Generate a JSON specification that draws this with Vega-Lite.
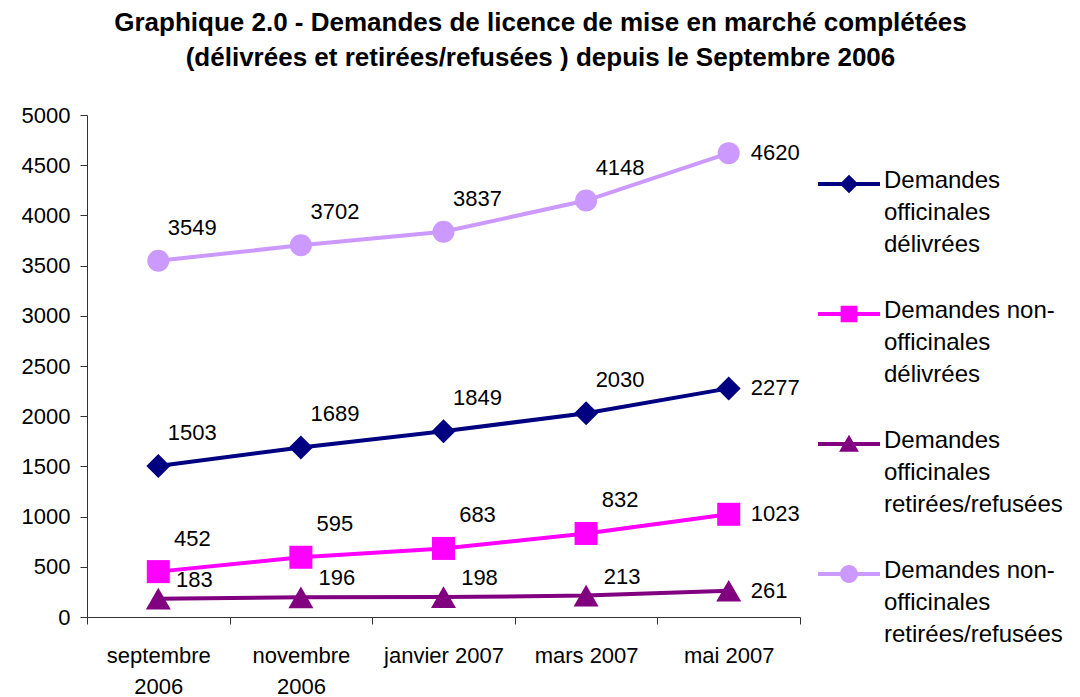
{
  "$schema": "https://vega.github.io/schema/vega-lite/v6.json",
  "width": 713,
  "height": 502,
  "autosize": "none",
  "padding": {"left": 87, "top": 115, "right": 280, "bottom": 80},
  "background": "white",
  "config": {"font": "Liberation Sans", "view": {"stroke": null}},
  "title": {
    "text": ["Graphique 2.0 - Demandes de licence de mise en marché complétées", "(délivrées et retirées/refusées ) depuis le Septembre 2006"],
    "font": "Liberation Sans",
    "fontSize": 26,
    "fontWeight": "bold",
    "color": "black",
    "anchor": "middle",
    "dx": 97,
    "lineHeight": 35,
    "offset": 33
  },
  "data": {
    "values": [
      {"month": "septembre 2006", "series": "Demandes officinales délivrées", "value": 1503},
      {"month": "novembre 2006", "series": "Demandes officinales délivrées", "value": 1689},
      {"month": "janvier 2007", "series": "Demandes officinales délivrées", "value": 1849},
      {"month": "mars 2007", "series": "Demandes officinales délivrées", "value": 2030},
      {"month": "mai 2007", "series": "Demandes officinales délivrées", "value": 2277},
      {"month": "septembre 2006", "series": "Demandes non-officinales délivrées", "value": 452},
      {"month": "novembre 2006", "series": "Demandes non-officinales délivrées", "value": 595},
      {"month": "janvier 2007", "series": "Demandes non-officinales délivrées", "value": 683},
      {"month": "mars 2007", "series": "Demandes non-officinales délivrées", "value": 832},
      {"month": "mai 2007", "series": "Demandes non-officinales délivrées", "value": 1023},
      {"month": "septembre 2006", "series": "Demandes officinales retirées/refusées", "value": 183},
      {"month": "novembre 2006", "series": "Demandes officinales retirées/refusées", "value": 196},
      {"month": "janvier 2007", "series": "Demandes officinales retirées/refusées", "value": 198},
      {"month": "mars 2007", "series": "Demandes officinales retirées/refusées", "value": 213},
      {"month": "mai 2007", "series": "Demandes officinales retirées/refusées", "value": 261},
      {"month": "septembre 2006", "series": "Demandes non-officinales retirées/refusées", "value": 3549},
      {"month": "novembre 2006", "series": "Demandes non-officinales retirées/refusées", "value": 3702},
      {"month": "janvier 2007", "series": "Demandes non-officinales retirées/refusées", "value": 3837},
      {"month": "mars 2007", "series": "Demandes non-officinales retirées/refusées", "value": 4148},
      {"month": "mai 2007", "series": "Demandes non-officinales retirées/refusées", "value": 4620}
    ]
  },
  "encoding": {
    "x": {
      "field": "month",
      "type": "ordinal",
      "sort": ["septembre 2006", "novembre 2006", "janvier 2007", "mars 2007", "mai 2007"],
      "scale": {"type": "band", "paddingInner": 0, "paddingOuter": 0},
      "axis": {
        "title": null,
        "labelAngle": 0,
        "labelFont": "Liberation Sans",
        "labelFontSize": 22,
        "labelColor": "black",
        "labelPadding": 21,
        "labelLineHeight": 31,
        "labelBaseline": "top",
        "labelExpr": "datum.label == 'septembre 2006' || datum.label == 'novembre 2006' ? split(datum.label, ' ') : datum.label",
        "tickBand": "extent",
        "tickSize": 7,
        "tickColor": "#333333",
        "domainColor": "#333333",
        "grid": false
      }
    },
    "y": {
      "field": "value",
      "type": "quantitative",
      "scale": {"domain": [0, 5000], "nice": false, "zero": true},
      "axis": {
        "title": null,
        "format": "d",
        "values": [0, 500, 1000, 1500, 2000, 2500, 3000, 3500, 4000, 4500, 5000],
        "labelFont": "Liberation Sans",
        "labelFontSize": 22,
        "labelColor": "black",
        "labelPadding": 10,
        "tickSize": 7,
        "tickColor": "#333333",
        "domainColor": "#333333",
        "grid": false
      }
    }
  },
  "layer": [
    {
      "mark": {"type": "line", "strokeWidth": 4},
      "encoding": {
        "color": {
          "field": "series",
          "type": "nominal",
          "scale": {
            "domain": ["Demandes officinales délivrées", "Demandes non-officinales délivrées", "Demandes officinales retirées/refusées", "Demandes non-officinales retirées/refusées"],
            "range": ["#000080", "#FF00FF", "#800080", "#CC99FF"]
          },
          "legend": {
            "title": null,
            "orient": "none",
            "legendX": 731,
            "legendY": 38,
            "padding": 0,
            "symbolSize": 3844,
            "symbolStrokeWidth": 0,
            "labelFont": "Liberation Sans",
            "labelFontSize": 24,
            "labelColor": "black",
            "labelLimit": 300,
            "labelOffset": 4,
            "labelBaseline": "top",
            "rowPadding": 26,
            "labelExpr": "datum.label == 'Demandes officinales délivrées' ? ['Demandes','officinales','délivrées'] : datum.label == 'Demandes non-officinales délivrées' ? ['Demandes non-','officinales','délivrées'] : datum.label == 'Demandes officinales retirées/refusées' ? ['Demandes','officinales','retirées/refusées'] : ['Demandes non-','officinales','retirées/refusées']",
            "encode": {
              "symbols": {
                "update": {
                  "shape": {"signal": "datum.value == 'Demandes officinales délivrées' ? 'M-1,-0.065H1V0.065H-1Z M0,-0.3L0.3,0L0,0.3L-0.3,0Z' : datum.value == 'Demandes non-officinales délivrées' ? 'M-1,-0.065H1V0.065H-1Z M-0.27,-0.27H0.27V0.27H-0.27Z' : datum.value == 'Demandes officinales retirées/refusées' ? 'M-1,-0.065H1V0.065H-1Z M0,-0.3L0.32,0.25L-0.32,0.25Z' : 'M-1,-0.065H1V0.065H-1Z M-0.29,0A0.29,0.29 0 1,1 0.29,0A0.29,0.29 0 1,1 -0.29,0Z'"},
                  "fill": {"scale": "color", "field": "value"},
                  "stroke": {"value": "transparent"},
                  "strokeWidth": {"value": 0},
                  "opacity": {"value": 1}
                }
              },
              "labels": {
                "update": {
                  "lineHeight": {"value": 32},
                  "dy": {"value": -15}
                }
              }
            }
          }
        }
      }
    },
    {
      "transform": [{"filter": "datum.series == 'Demandes officinales délivrées'"}],
      "mark": {"type": "point", "shape": "diamond", "filled": true, "size": 576, "color": "#000080", "opacity": 1}
    },
    {
      "transform": [{"filter": "datum.series == 'Demandes non-officinales délivrées'"}],
      "mark": {"type": "point", "shape": "square", "filled": true, "size": 529, "color": "#FF00FF", "opacity": 1}
    },
    {
      "transform": [{"filter": "datum.series == 'Demandes officinales retirées/refusées'"}],
      "mark": {"type": "point", "shape": "triangle-up", "filled": true, "size": 625, "color": "#800080", "opacity": 1}
    },
    {
      "transform": [{"filter": "datum.series == 'Demandes non-officinales retirées/refusées'"}],
      "mark": {"type": "point", "shape": "circle", "filled": true, "size": 484, "color": "#CC99FF", "opacity": 1}
    },
    {
      "transform": [{"filter": "datum.month != 'mai 2007' && datum.series != 'Demandes officinales retirées/refusées'"}],
      "mark": {"type": "text", "font": "Liberation Sans", "fontSize": 22, "color": "black", "align": "center", "baseline": "middle", "dx": 34, "dy": -33},
      "encoding": {"text": {"field": "value", "type": "quantitative", "format": "d"}}
    },
    {
      "transform": [{"filter": "datum.month != 'mai 2007' && datum.series == 'Demandes officinales retirées/refusées'"}],
      "mark": {"type": "text", "font": "Liberation Sans", "fontSize": 22, "color": "black", "align": "center", "baseline": "middle", "dx": 36, "dy": -19},
      "encoding": {"text": {"field": "value", "type": "quantitative", "format": "d"}}
    },
    {
      "transform": [{"filter": "datum.month == 'mai 2007'"}],
      "mark": {"type": "text", "font": "Liberation Sans", "fontSize": 22, "color": "black", "align": "left", "baseline": "middle", "dx": 22, "dy": 0},
      "encoding": {"text": {"field": "value", "type": "quantitative", "format": "d"}}
    }
  ]
}
